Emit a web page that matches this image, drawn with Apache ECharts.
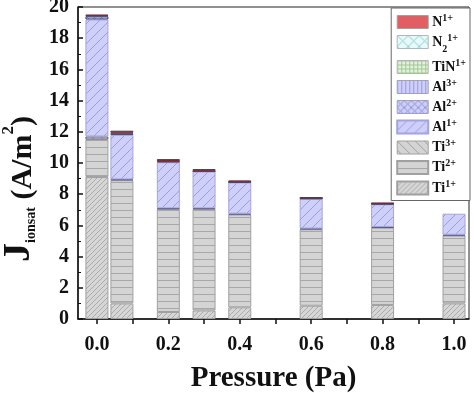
<!DOCTYPE html>
<html><head><meta charset="utf-8">
<script src="https://cdn.jsdelivr.net/npm/echarts@6/dist/echarts.min.js"></script>
<style>html,body{margin:0;padding:0;background:#fff}#c{width:474px;height:393px}</style>
</head><body><div id="c"></div>
<script>
// ---- data ----
const pressure = [0.0, 0.07, 0.2, 0.3, 0.4, 0.6, 0.8, 1.0];
const ti1  = [9.1, 1.0, 0.45, 0.55, 0.75, 0.85, 0.9, 1.0];
const ti2  = [2.4, 7.9, 6.6, 6.5, 5.95, 4.9, 4.95, 4.35];
const ti3  = [0.2, 0.05, 0.05, 0.05, 0.05, 0.05, 0.05, 0.05];
const al1  = [7.5, 2.85, 2.95, 2.35, 2.0, 1.9, 1.45, 1.35];
const al2  = [0.2, 0.1, 0.05, 0.03, 0.03, 0.03, 0.03, null];
const al3  = [0.05, 0.05, 0.03, 0.03, 0.02, 0.03, 0.03, null];
const tin1 = [0, 0, 0, 0, 0, 0, 0, null];
const n21  = [0, 0, 0, 0, 0, 0, 0, null];
const n1   = [0.05, 0.12, 0.12, 0.1, 0.08, 0.03, 0.03, null];
const xLabelValues = [0.0, 0.2, 0.4, 0.6, 0.8, 1.0];
const xTickValues = [0.0, 0.1, 0.2, 0.3, 0.4, 0.5, 0.6, 0.7, 0.8, 0.9, 1.0];
const seriesNames = ['Ti1+', 'Ti2+', 'Ti3+', 'Al1+', 'Al2+', 'Al3+', 'TiN1+', 'N2 1+', 'N1+'];
const legendOrder = ['N1+', 'N2 1+', 'TiN1+', 'Al3+', 'Al2+', 'Al1+', 'Ti3+', 'Ti2+', 'Ti1+'];

// ---- fill patterns ----
function pattern(bg, line, type, s) {
  const c = document.createElement('canvas');
  c.width = s; c.height = s;
  const g = c.getContext('2d');
  g.fillStyle = bg; g.fillRect(0, 0, s, s);
  g.strokeStyle = line; g.lineWidth = 1;
  g.beginPath();
  const fwd = () => { g.moveTo(-1, s + 1); g.lineTo(s + 1, -1); g.moveTo(-1, 1); g.lineTo(1, -1); g.moveTo(s - 1, s + 1); g.lineTo(s + 1, s - 1); };
  const back = () => { g.moveTo(-1, -1); g.lineTo(s + 1, s + 1); g.moveTo(s - 1, -1); g.lineTo(s + 1, 1); g.moveTo(-1, s - 1); g.lineTo(1, s + 1); };
  if (type === 'fwd') fwd();
  if (type === 'back') back();
  if (type === 'cross') { fwd(); back(); }
  if (type === 'h') { g.moveTo(0, 0.5); g.lineTo(s, 0.5); }
  if (type === 'v') { g.moveTo(0.5, 0); g.lineTo(0.5, s); }
  if (type === 'grid') { g.moveTo(0, 0.5); g.lineTo(s, 0.5); g.moveTo(0.5, 0); g.lineTo(0.5, s); }
  g.stroke();
  return { image: c, repeat: 'repeat' };
}

const styles = {
  'Ti1+':  { color: pattern('#d6d6d6', '#ababab', 'fwd', 5), borderColor: '#a0a0a0', borderWidth: 1 },
  'Ti2+':  { color: pattern('#d4d4d4', '#a8a8a8', 'h', 7), borderColor: '#a0a0a0', borderWidth: 1 },
  'Ti3+':  { color: pattern('#d4d4d4', '#a0a0a0', 'back', 9), borderColor: '#5a5a78', borderWidth: 1 },
  'Al1+':  { color: pattern('#cfcffc', '#9d9dde', 'fwd', 10), borderColor: '#a4a4dc', borderWidth: 1 },
  'Al2+':  { color: pattern('#cfcffc', '#8f8fd0', 'cross', 7), borderColor: '#454570', borderWidth: 1 },
  'Al3+':  { color: pattern('#cfcffc', '#9a9ad6', 'v', 4), borderColor: '#454570', borderWidth: 1 },
  'TiN1+': { color: pattern('#e0f2da', '#a4c896', 'grid', 4), borderColor: '#a8b8a0', borderWidth: 0 },
  'N2 1+': { color: pattern('#e6fafa', '#93cccc', 'cross', 11), borderColor: '#a8c0c0', borderWidth: 0 },
  'N1+':   { color: '#e05f62', borderColor: '#7a2838', borderWidth: 1 }
};
const legendIconStyle = {
  'TiN1+': { borderWidth: 1, borderColor: '#b0b8b0' },
  'N2 1+': { borderWidth: 1, borderColor: '#b0b8b8' },
  'Al2+':  { borderWidth: 1, borderColor: '#a0a0c0' },
  'Al3+':  { borderWidth: 1, borderColor: '#a0a0c0' },
  'Ti3+':  { borderWidth: 1, borderColor: '#a0a0a0' },
  'N1+':   { borderWidth: 1, borderColor: '#a0a0a0' }
};
const values = { 'Ti1+': ti1, 'Ti2+': ti2, 'Ti3+': ti3, 'Al1+': al1, 'Al2+': al2, 'Al3+': al3, 'TiN1+': tin1, 'N2 1+': n21, 'N1+': n1 };
const legendText = {
  'N1+': '{b|N}{sup|1+}',
  'N2 1+': '{b|N}{sub|2}{sup|1+}',
  'TiN1+': '{b|TiN}{sup|1+}',
  'Al3+': '{b|Al}{sup|3+}',
  'Al2+': '{b|Al}{sup|2+}',
  'Al1+': '{b|Al}{sup|1+}',
  'Ti3+': '{b|Ti}{sup|3+}',
  'Ti2+': '{b|Ti}{sup|2+}',
  'Ti1+': '{b|Ti}{sup|1+}'
};

const F = '"Liberation Serif", "Times New Roman", serif';
// data rows are [value, pressure] so that stacking runs on the y value
const series = seriesNames.map(n => ({
  name: n, type: 'bar', stack: 'total', barWidth: 23,
  itemStyle: styles[n],
  emphasis: { disabled: true },
  encode: { x: 1, y: 0 },
  data: pressure.map((p, i) => [values[n][i], p])
}));

const chart = echarts.init(document.getElementById('c'), null, { renderer: 'canvas' });
chart.setOption({
  animation: false,
  backgroundColor: '#fff',
  grid: { left: 78, right: 5, top: 7, bottom: 74, show: true, borderColor: '#222', borderWidth: 1, outerBoundsMode: 'none', containLabel: false },
  legend: {
    orient: 'vertical', right: 4, top: 8,
    data: legendOrder.map(n => ({ name: n, itemStyle: legendIconStyle[n] || {} })),
    icon: 'rect', itemWidth: 31, itemHeight: 13, itemGap: 4,
    padding: [5, 4, 5, 5],
    borderColor: '#666', borderWidth: 1, backgroundColor: '#fff',
    selectedMode: false,
    formatter: n => legendText[n],
    textStyle: {
      fontFamily: F, color: '#111', padding: [0, 0, 0, -1],
      rich: {
        b: { fontFamily: F, fontWeight: 'bold', fontSize: 14, color: '#111', lineHeight: 14, verticalAlign: 'bottom' },
        sup: { fontFamily: F, fontWeight: 'bold', fontSize: 10, color: '#111', lineHeight: 14, verticalAlign: 'top', padding: [-2, 0, 0, 0] },
        sub: { fontFamily: F, fontWeight: 'bold', fontSize: 10, color: '#111', lineHeight: 14, verticalAlign: 'bottom', padding: [0, 0, -5, 0] }
      }
    }
  },
  xAxis: {
    type: 'value', min: -0.053, max: 1.042,
    name: 'Pressure (Pa)', nameLocation: 'middle', nameGap: 45,
    nameTextStyle: { fontFamily: F, fontWeight: 'bold', fontSize: 29, color: '#111' },
    axisLine: { show: true, onZero: false, lineStyle: { color: '#111', width: 1.5 } },
    axisTick: { show: true, inside: false, length: 5, customValues: xTickValues, lineStyle: { color: '#111', width: 1.5 } },
    axisLabel: { customValues: xLabelValues, formatter: v => Number(v).toFixed(1), fontFamily: F, fontWeight: 'bold', fontSize: 20, color: '#111', margin: 16 },
    splitLine: { show: false }
  },
  yAxis: {
    type: 'value', min: 0, max: 20, interval: 2,
    name: '{j|J}{sub|ionsat}{p| (A/m}{sup|2}{p|)}', nameLocation: 'middle', nameGap: 40, nameRotate: 90,
    nameTextStyle: {
      padding: [0, 52, 0, 0],
      rich: {
        j: { fontFamily: F, fontWeight: 'bold', fontSize: 38, color: '#111', lineHeight: 38, verticalAlign: 'bottom' },
        sub: { fontFamily: F, fontWeight: 'bold', fontSize: 14, color: '#111', lineHeight: 14, verticalAlign: 'bottom' },
        p: { fontFamily: F, fontWeight: 'bold', fontSize: 30, color: '#111', lineHeight: 30, verticalAlign: 'bottom' },
        sup: { fontFamily: F, fontWeight: 'bold', fontSize: 17, color: '#111', lineHeight: 17, verticalAlign: 'top' }
      }
    },
    axisLine: { show: true, onZero: false, lineStyle: { color: '#111', width: 1.5 } },
    axisTick: { show: true, inside: true, length: 5, lineStyle: { color: '#111', width: 1.5 } },
    minorTick: { show: true, splitNumber: 2, length: 3, lineStyle: { color: '#111', width: 1 } },
    axisLabel: { fontFamily: F, fontWeight: 'bold', fontSize: 20, color: '#111', margin: 9 },
    splitLine: { show: false }
  },
  series: series
});
</script>
</body></html>
